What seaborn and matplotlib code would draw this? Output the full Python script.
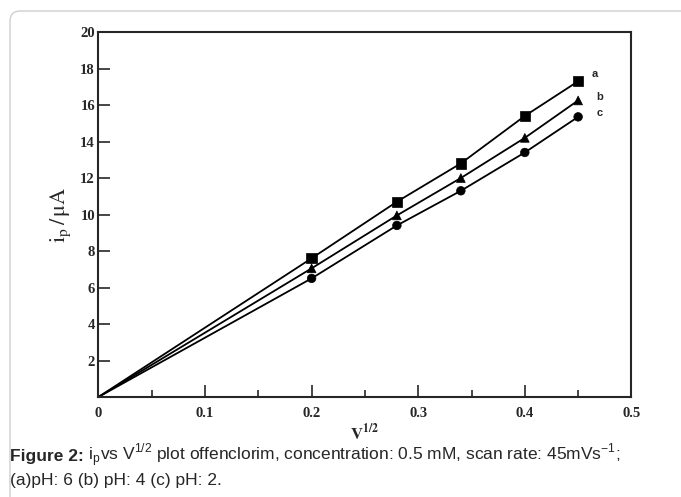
import matplotlib
matplotlib.use("Agg")
import matplotlib.pyplot as plt
import matplotlib.ticker as mticker
from matplotlib.patches import FancyBboxPatch
import pandas as pd
import seaborn as sns

#%% data
v_half = [0.2, 0.28, 0.34, 0.4, 0.45]
ip_a = [7.6, 10.7, 12.8, 15.4, 17.3]    # pH 6
ip_b = [7.05, 9.95, 12.0, 14.2, 16.25]  # pH 4
ip_c = [6.5, 9.4, 11.3, 13.4, 15.35]    # pH 2
series_names = ['a', 'b', 'c']
y_ticks = [2, 4, 6, 8, 10, 12, 14, 16, 18, 20]
x_ticks = [0, 0.1, 0.2, 0.3, 0.4, 0.5]

pts = pd.DataFrame({
    'v': v_half * 3,
    'ip': ip_a + ip_b + ip_c,
    'series': [s for s in series_names for _ in v_half],
})
# fitted lines go through the origin
origin = pd.DataFrame({'v': [0.0] * 3, 'ip': [0.0] * 3, 'series': series_names})
lines = pd.concat([origin, pts], ignore_index=True)

#%% make graph
sns.set_style("ticks")
plt.rcParams['font.family'] = ['Liberation Serif', 'DejaVu Serif']
plt.rcParams['mathtext.fontset'] = 'custom'
plt.rcParams['mathtext.rm'] = 'Liberation Sans'
plt.rcParams['mathtext.bf'] = 'Liberation Sans:bold'

fig = plt.figure(figsize=(6.81, 4.97), dpi=100)
ax = fig.add_axes([0.1445, 0.2012, 0.7827, 0.7344])

fig.patches.append(FancyBboxPatch((10, -30), 720, 516,
                                  boxstyle="round,pad=0,rounding_size=10",
                                  transform=None, facecolor='none',
                                  edgecolor='#cfcfcf', linewidth=1.0))

sns.lineplot(data=lines, x='v', y='ip', hue='series',
             palette={'a': 'black', 'b': 'black', 'c': 'black'},
             estimator=None, linewidth=1.3, legend=False, ax=ax)
sns.scatterplot(data=pts, x='v', y='ip', style='series', size='series',
                markers={'a': 's', 'b': '^', 'c': 'o'},
                sizes={'a': 55, 'b': 40, 'c': 38},
                color='black', edgecolor='black', linewidth=0.5,
                legend=False, ax=ax, zorder=3)

offsets = {'a': (10, 5), 'b': (13, 2.5), 'c': (13, 3)}
for name, vals in zip(series_names, [ip_a, ip_b, ip_c]):
    ax.annotate(name, (v_half[-1], vals[-1]), xytext=offsets[name],
                textcoords='offset points', fontsize=8, fontweight='bold',
                family='Liberation Sans', ha='left', va='center')

ax.set_xlim(0, 0.5)
ax.set_ylim(0, 20)
ax.set_xticks(x_ticks)
ax.set_yticks(y_ticks)
ax.xaxis.set_minor_locator(mticker.MultipleLocator(0.05))
ax.xaxis.set_major_formatter(mticker.FuncFormatter(lambda v, _: '0' if v == 0 else f'{v:.1f}'))
ax.tick_params(which='major', direction='in', length=8.5, width=1.2, labelsize=10.5)
ax.tick_params(axis='x', which='major', pad=7)
ax.tick_params(axis='y', which='major', pad=2.5)
ax.tick_params(which='minor', direction='in', length=5, width=1.2)
ax.tick_params(axis='y', which='minor', left=False)
plt.setp(ax.get_xticklabels() + ax.get_yticklabels(), fontweight='bold')
for sp in ax.spines.values():
    sp.set_linewidth(1.5)

ax.set_xlabel(r'$\mathbf{V}^{\mathbf{1/2}}$', fontsize=12, math_fontfamily='stix', labelpad=2)
ax.set_ylabel(r'$\mathrm{i_p\,/\,\mu A}$', fontsize=16, math_fontfamily='stix', labelpad=5)

# caption: bold lead-in, rest placed right after it on the same baseline
cap_size = 12.5
cap_y1, cap_y2 = 0.073, 0.024
cap = fig.text(0.015, cap_y1, 'Figure 2:', family='Liberation Sans', fontsize=cap_size,
               fontweight='bold', va='baseline', ha='left')
fig.canvas.draw()
x_end = cap.get_window_extent().x1 / fig.bbox.width
fig.text(x_end, cap_y1,
         r' i$_{\mathrm{p}}$vs V$^{\mathrm{1/2}}$ plot offenclorim, '
         r'concentration: 0.5 mM, scan rate: 45mVs$^{\mathrm{-1}}$;',
         family='Liberation Sans', fontsize=cap_size, va='baseline', ha='left')
fig.text(0.015, cap_y2, '(a)pH: 6 (b) pH: 4 (c) pH: 2.',
         family='Liberation Sans', fontsize=cap_size, va='baseline', ha='left')

plt.savefig('out.png', dpi=100)
